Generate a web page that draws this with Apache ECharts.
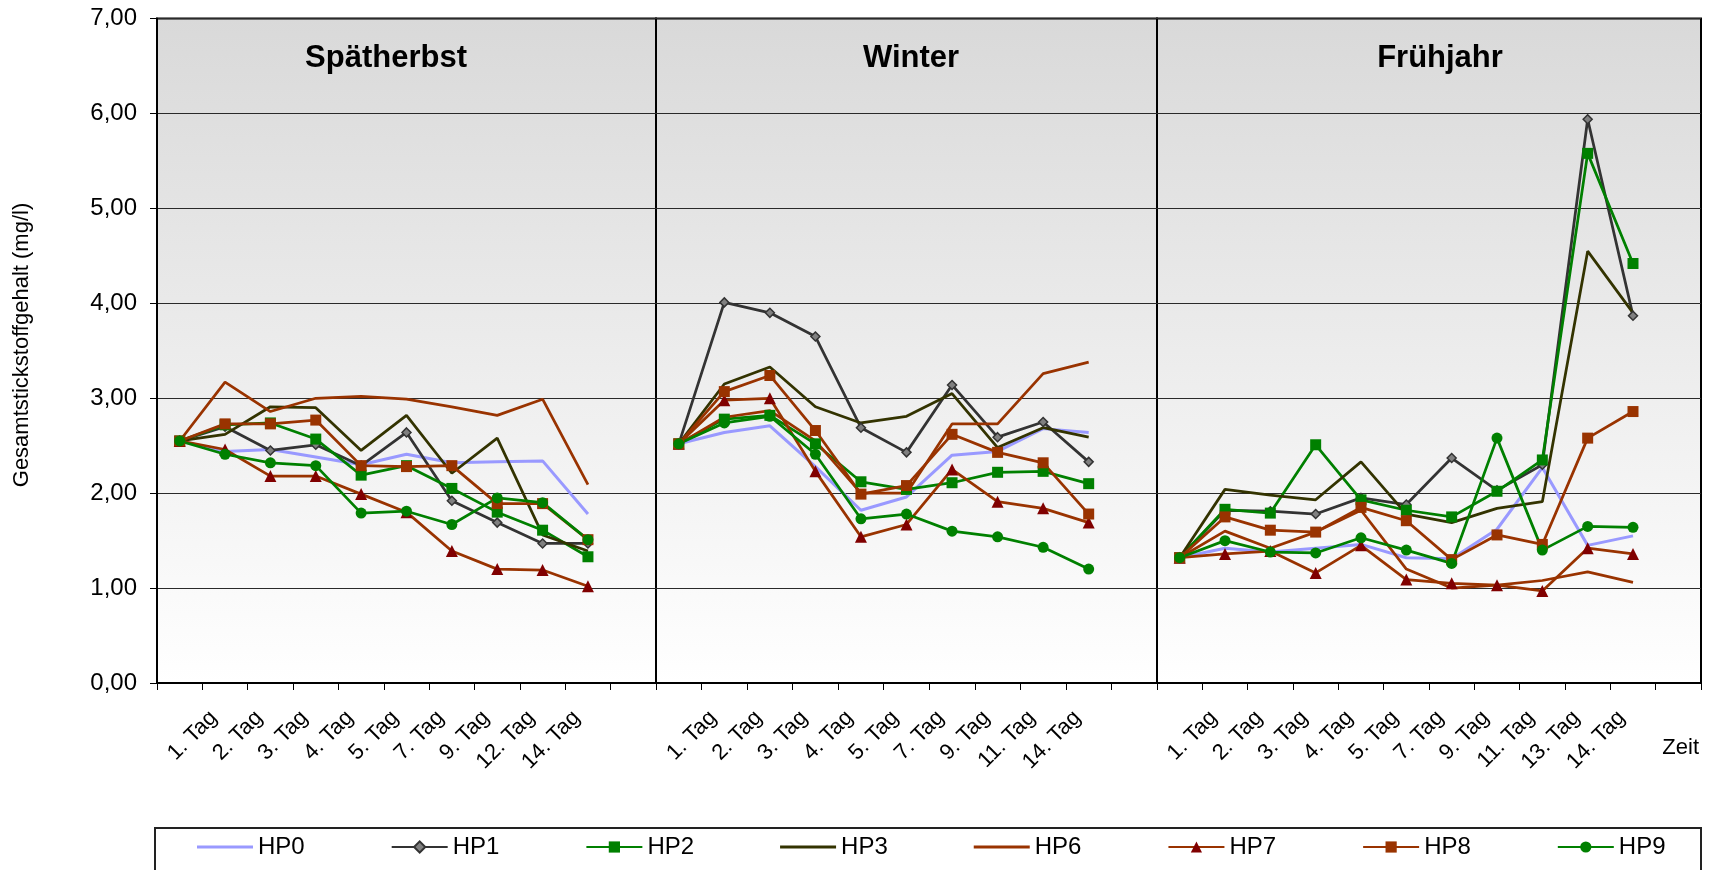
<!DOCTYPE html>
<html>
<head>
<meta charset="utf-8">
<script src="https://cdn.jsdelivr.net/npm/echarts@6/dist/echarts.min.js"></script>
<style>
  html, body { margin: 0; padding: 0; background: #fff; }
  #chart { width: 1713px; height: 870px; }
</style>
</head>
<body>
<div id="chart"></div>
<script>
// Seasons and their sampling days (first slot = starting value, last slot left empty)
const seasons = ['Spätherbst', 'Winter', 'Frühjahr'];
const daysSpaetherbst = ['', '1. Tag', '2. Tag', '3. Tag', '4. Tag', '5. Tag', '7. Tag', '9. Tag', '12. Tag', '14. Tag', ''];
const daysWinter = ['', '1. Tag', '2. Tag', '3. Tag', '4. Tag', '5. Tag', '7. Tag', '9. Tag', '11. Tag', '14. Tag', ''];
const daysFruehjahr = ['', '1. Tag', '2. Tag', '3. Tag', '4. Tag', '5. Tag', '7. Tag', '9. Tag', '11. Tag', '13. Tag', '14. Tag', ''];

const seriesNames = ['HP0', 'HP1', 'HP2', 'HP3', 'HP6', 'HP7', 'HP8', 'HP9'];

// Gesamtstickstoffgehalt (mg/l): Spätherbst | Winter | Frühjahr
const HP0 = [2.55, 2.44, 2.46, 2.38, 2.30, 2.41, 2.32, 2.33, 2.34, 1.78, null,
             2.52, 2.64, 2.71, 2.28, 1.82, 1.96, 2.40, 2.44, 2.68, 2.64, null,
             1.32, 1.42, 1.38, 1.42, 1.46, 1.32, 1.31, 1.62, 2.27, 1.45, 1.55, null];
const HP1 = [2.55, 2.70, 2.45, 2.51, 2.29, 2.64, 1.92, 1.69, 1.47, 1.47, null,
             2.52, 4.01, 3.90, 3.65, 2.69, 2.43, 3.14, 2.59, 2.75, 2.33, null,
             1.32, 1.82, 1.81, 1.78, 1.95, 1.88, 2.37, 2.03, 2.30, 5.94, 3.87, null];
const HP2 = [2.55, 2.72, 2.74, 2.57, 2.19, 2.29, 2.05, 1.80, 1.61, 1.33, null,
             2.52, 2.78, 2.82, 2.52, 2.12, 2.04, 2.11, 2.22, 2.23, 2.10, null,
             1.32, 1.83, 1.79, 2.51, 1.93, 1.82, 1.75, 2.02, 2.35, 5.58, 4.42, null];
const HP3 = [2.55, 2.62, 2.91, 2.90, 2.45, 2.82, 2.21, 2.58, 1.56, 1.39, null,
             2.52, 3.15, 3.33, 2.91, 2.74, 2.81, 3.05, 2.48, 2.69, 2.59, null,
             1.32, 2.04, 1.98, 1.93, 2.33, 1.78, 1.69, 1.84, 1.91, 4.55, 3.90, null];
const HP6 = [2.55, 3.17, 2.86, 3.00, 3.02, 2.99, 2.91, 2.82, 2.99, 2.09, null,
             2.52, 2.80, 2.87, 2.55, 2.00, 2.00, 2.73, 2.73, 3.26, 3.38, null,
             1.32, 1.60, 1.42, 1.59, 1.82, 1.20, 1.00, 1.03, 1.08, 1.17, 1.06, null];
const HP7 = [2.55, 2.46, 2.18, 2.18, 1.99, 1.80, 1.39, 1.20, 1.19, 1.02, null,
             2.52, 2.98, 3.00, 2.23, 1.54, 1.67, 2.25, 1.91, 1.84, 1.69, null,
             1.32, 1.36, 1.39, 1.16, 1.45, 1.09, 1.05, 1.03, 0.97, 1.42, 1.36, null];
const HP8 = [2.55, 2.73, 2.73, 2.77, 2.29, 2.28, 2.29, 1.89, 1.89, 1.51, null,
             2.52, 3.07, 3.24, 2.66, 1.99, 2.08, 2.62, 2.43, 2.32, 1.78, null,
             1.32, 1.75, 1.61, 1.59, 1.85, 1.71, 1.30, 1.56, 1.46, 2.58, 2.86, null];
const HP9 = [2.55, 2.41, 2.32, 2.29, 1.79, 1.81, 1.67, 1.95, 1.90, 1.51, null,
             2.52, 2.74, 2.81, 2.41, 1.73, 1.78, 1.60, 1.54, 1.43, 1.20, null,
             1.32, 1.50, 1.38, 1.37, 1.53, 1.40, 1.26, 2.58, 1.40, 1.65, 1.64, null];

const valueRows = { HP0, HP1, HP2, HP3, HP6, HP7, HP8, HP9 };
const dayLists = [daysSpaetherbst, daysWinter, daysFruehjahr];

// Line / marker look of each measuring point
const looks = {
  HP0: { line: '#9999ff', width: 3, symbol: 'none' },
  HP1: { line: '#333333', width: 2.75, symbol: 'diamond', size: 9, fill: '#808080', border: '#333333' },
  HP2: { line: '#008000', width: 2.75, symbol: 'rect', size: 11, fill: '#008000' },
  HP3: { line: '#333300', width: 2.75, symbol: 'none' },
  HP6: { line: '#993300', width: 2.75, symbol: 'none' },
  HP7: { line: '#993300', width: 2.75, symbol: 'triangle', size: 12, fill: '#800000' },
  HP8: { line: '#993300', width: 2.75, symbol: 'rect', size: 11, fill: '#993300' },
  HP9: { line: '#008000', width: 2.75, symbol: 'circle', size: 11, fill: '#008000' }
};

const FONT = 'Liberation Sans, Arial, sans-serif';
const PLOT_TOP = 18.6, PLOT_H = 664.4;
const panelLeft = [157, 656, 1157];
const panelWidth = [499, 501, 544];
const titleX = [386, 911, 1440];

const plotFill = {
  type: 'linear', x: 0, y: 0, x2: 0, y2: 1,
  colorStops: [{ offset: 0, color: '#d9d9d9' }, { offset: 1, color: '#ffffff' }]
};

const grids = [], xAxes = [], yAxes = [], series = [];
let offset = 0;
dayLists.forEach((days, g) => {
  grids.push({
    left: panelLeft[g], top: PLOT_TOP, width: panelWidth[g], height: PLOT_H,
    show: true, backgroundColor: plotFill, borderColor: '#000', borderWidth: 2
  });
  xAxes.push({
    type: 'category', gridIndex: g, data: days, boundaryGap: true,
    axisLine: { lineStyle: { color: '#000', width: 2 } },
    axisTick: { show: true, interval: 0, length: 7, lineStyle: { color: '#000', width: 1 } },
    axisLabel: {
      interval: 0, rotate: 45, margin: 20, padding: [0, 16, 0, 0],
      fontSize: 22, fontFamily: FONT, color: '#000'
    },
    splitLine: { show: false }
  });
  yAxes.push({
    type: 'value', gridIndex: g, min: 0, max: 7, interval: 1,
    axisLine: { show: g === 0, lineStyle: { color: '#000', width: 2 } },
    axisTick: { show: g === 0, length: 7, lineStyle: { color: '#000', width: 1 } },
    axisLabel: {
      show: g === 0, margin: 20, fontSize: 24, fontFamily: FONT, color: '#000',
      formatter: v => v.toFixed(2).replace('.', ',')
    },
    splitLine: { show: true, lineStyle: { color: '#2a2a2a', width: 1 } }
  });
  seriesNames.forEach(name => {
    const lk = looks[name];
    series.push({
      name, type: 'line', xAxisIndex: g, yAxisIndex: g,
      data: valueRows[name].slice(offset, offset + days.length),
      symbol: lk.symbol, symbolSize: lk.size || 0, showSymbol: lk.symbol !== 'none',
      lineStyle: { color: lk.line, width: lk.width },
      itemStyle: { color: lk.fill || lk.line, borderColor: lk.border || lk.fill || lk.line, borderWidth: lk.border ? 1.5 : 0 },
      emphasis: { disabled: true },
      connectNulls: false
    });
  });
  offset += days.length;
});

// Legend entries: series without markers get a plain bar icon
const legendData = seriesNames.map(name =>
  looks[name].symbol === 'none'
    ? { name, icon: 'path://M0,0 L56,0 L56,3 L0,3 Z' }
    : { name }
);

const graphics = seasons.map((s, i) => ({
  type: 'text', x: titleX[i], y: 58, z: 10,
  style: { text: s, fontSize: 31, fontWeight: 'bold', fontFamily: FONT, fill: '#000', align: 'center', verticalAlign: 'middle' }
}));
// Value axis title
graphics.push({
  type: 'text', x: 22, y: 345, rotation: Math.PI / 2,
  style: { text: 'Gesamtstickstoffgehalt (mg/l)', fontSize: 22, fontFamily: FONT, fill: '#000', align: 'center', verticalAlign: 'middle' }
});
// Category axis title
graphics.push({
  type: 'text', x: 1699, y: 748,
  style: { text: 'Zeit', fontSize: 22, fontFamily: FONT, fill: '#000', align: 'right', verticalAlign: 'middle' }
});
// Legend frame
graphics.push({
  type: 'rect', shape: { x: 155, y: 828, width: 1546, height: 70 }, z: -1,
  style: { fill: '#fff', stroke: '#222', lineWidth: 2 }
});

const chart = echarts.init(document.getElementById('chart'), null, { renderer: 'canvas' });
chart.setOption({
  animation: false,
  backgroundColor: '#fff',
  grid: grids,
  xAxis: xAxes,
  yAxis: yAxes,
  series,
  legend: {
    data: legendData, left: 197, top: 835, padding: 0,
    itemWidth: 56, itemHeight: 14, itemGap: 86,
    textStyle: { fontSize: 24, fontFamily: FONT, color: '#000' }
  },
  graphic: graphics
});
</script>
</body>
</html>
